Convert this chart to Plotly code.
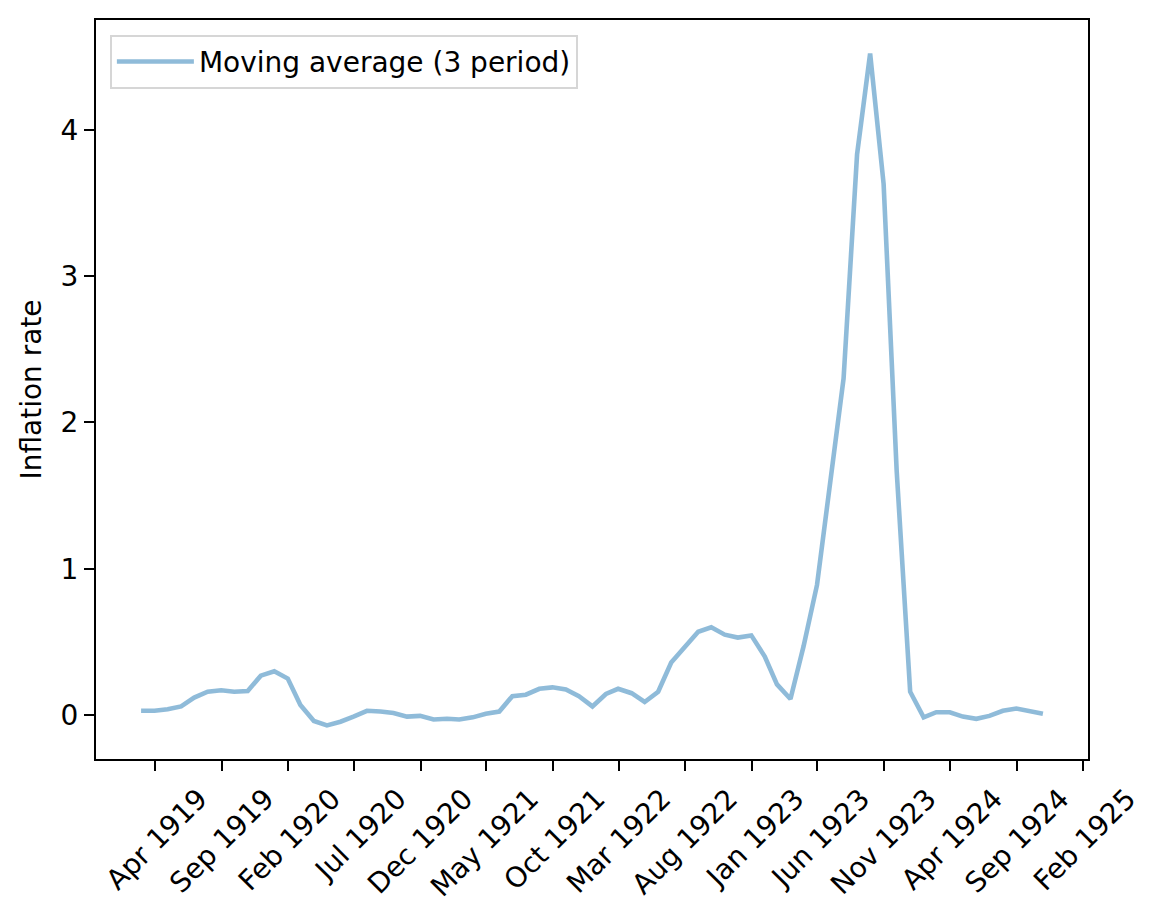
import pandas as pd
import plotly.graph_objects as go

# monthly inflation, 3 period moving average (month-end dates)
first_month = '1919-02-28'
inflation_ma3 = [0.03, 0.03, 0.04, 0.06, 0.12, 0.16, 0.17, 0.16, 0.165, 0.27,
                 0.30, 0.25, 0.07, -0.04, -0.07, -0.045, -0.01, 0.03, 0.025, 0.015,
                 -0.01, -0.005, -0.03, -0.025, -0.03, -0.015, 0.01, 0.025, 0.13, 0.14,
                 0.18, 0.19, 0.175, 0.13, 0.06, 0.145, 0.18, 0.15, 0.09, 0.16,
                 0.36, 0.465, 0.57, 0.60, 0.55, 0.53, 0.545, 0.40, 0.21, 0.11,
                 0.47, 0.89, 1.60, 2.30, 3.83, 4.52, 3.63, 1.67, 0.16, -0.015,
                 0.02, 0.02, -0.01, -0.025, -0.005, 0.03, 0.045, 0.025, 0.01]
tick_dates = ['1919-04-01', '1919-09-01', '1920-02-01', '1920-07-01', '1920-12-01',
              '1921-05-01', '1921-10-01', '1922-03-01', '1922-08-01', '1923-01-01',
              '1923-06-01', '1923-11-01', '1924-04-01', '1924-09-01', '1925-02-01']
tick_labels = ['Apr 1919', 'Sep 1919', 'Feb 1920', 'Jul 1920', 'Dec 1920',
               'May 1921', 'Oct 1921', 'Mar 1922', 'Aug 1922', 'Jan 1923',
               'Jun 1923', 'Nov 1923', 'Apr 1924', 'Sep 1924', 'Feb 1925']

dates = pd.date_range(first_month, periods=len(inflation_ma3), freq='ME')

# matplotlib-like 5% margins
span = dates[-1] - dates[0]
x_range = [dates[0] - span * 0.05, dates[-1] + span * 0.05]
lo, hi = min(inflation_ma3), max(inflation_ma3)
y_range = [lo - (hi - lo) * 0.05, hi + (hi - lo) * 0.05]

FONT = 'DejaVu Sans'
fsize = 28

fig = go.Figure()
fig.add_trace(go.Scatter(x=dates, y=inflation_ma3, mode='lines',
                         name='Moving average (3 period)',
                         line=dict(color='rgba(31,119,180,0.5)', width=4.6)))

axis_style = dict(showline=True, linecolor='black', linewidth=2.2, mirror=True,
                  ticks='outside', ticklen=10, tickwidth=2.2, tickcolor='black',
                  showgrid=False, zeroline=False,
                  tickfont=dict(family=FONT, size=fsize, color='black'))

# page body adds 8px, margins compensate for it
fig.update_layout(
    width=1159, height=916,
    margin=dict(l=88, r=79, t=10, b=165),
    plot_bgcolor='white', paper_bgcolor='white',
    font=dict(family=FONT, size=fsize, color='black'),
    showlegend=True,
    legend=dict(x=0.014, y=0.98, xanchor='left', yanchor='top',
                bordercolor='#d6d6d6', borderwidth=2, bgcolor='white',
                itemwidth=77,
                font=dict(family=FONT, size=fsize, color='black')),
    xaxis=dict(type='date', range=x_range, tickmode='array',
               tickvals=tick_dates, ticktext=tick_labels, tickangle=-45,
               ticklabelshift=44, **axis_style),
    yaxis=dict(range=y_range, tickmode='array', tickvals=[0, 1, 2, 3, 4],
               title=dict(text='Inflation rate', standoff=11,
                          font=dict(family=FONT, size=fsize, color='black')),
               **axis_style),
)

fig.write_html('out.html')
